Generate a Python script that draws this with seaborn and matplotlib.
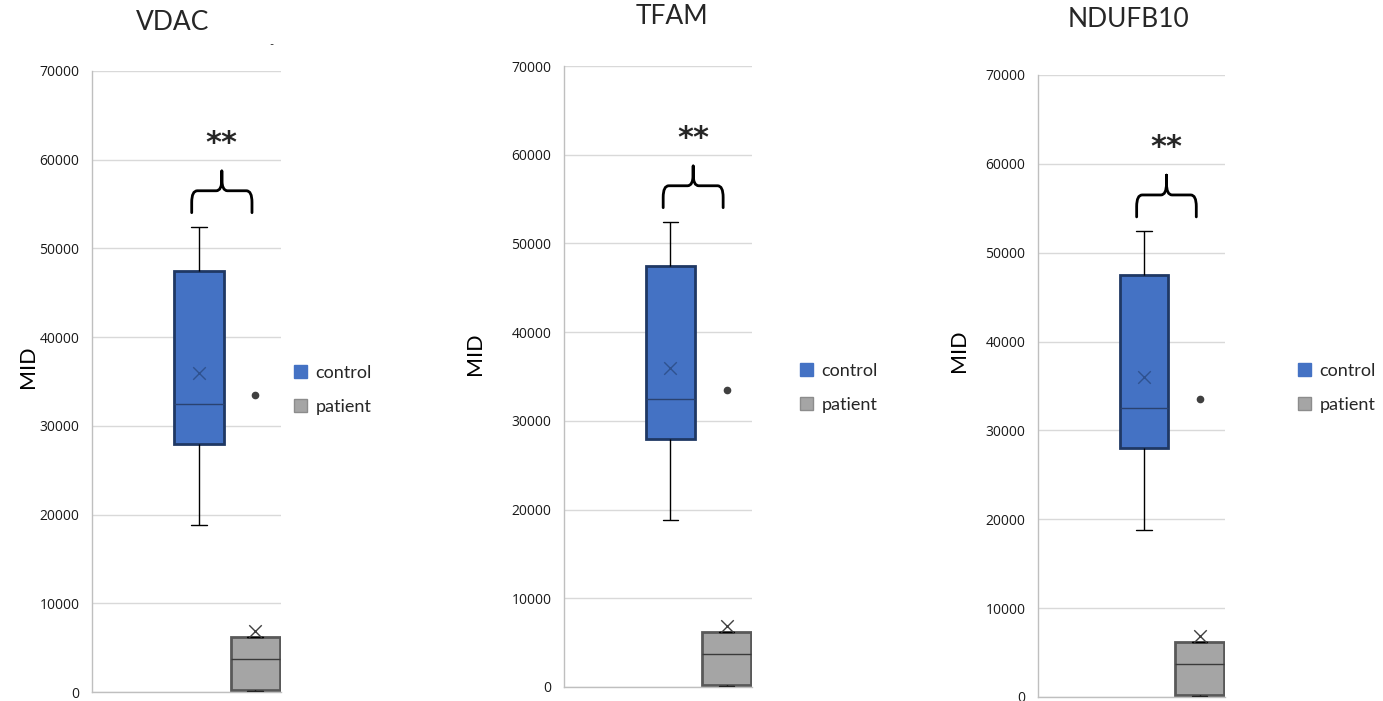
import pandas as pd
import seaborn as sns
import matplotlib.pyplot as plt
from matplotlib.patches import Patch, PathPatch
from matplotlib.path import Path

# data (same values in all three panels)
genes = ["VDAC", "TFAM", "NDUFB10"]
groups = ["control", "patient"]
# lower whisker, Q1, median, Q3, upper whisker
control_values = [18800, 28000, 32500, 47500, 52400]
# lower whisker, Q1, median, Q3, outlier
patient_values = [100, 250, 3700, 6150, 33500]
group_means = [36000, 6900]
y_ticks = [0, 10000, 20000, 30000, 40000, 50000, 60000, 70000]

W, H = 1383, 701

FILL = {"control": "#4472C4", "patient": "#A5A5A5"}
EDGE = {"control": "#1F3864", "patient": "#595959"}
MEDIAN = {"control": "#2A4270", "patient": "#3A3A3A"}
MEAN = {"control": "#2F528F", "patient": "#404040"}

# pixel layout of each panel: left, right, top, bottom
PANELS = [(92, 281, 71, 692), (564, 752, 66, 687), (1038, 1225, 75, 697)]
TITLES = [(173, 38), (672, 32), (1129, 35)]
YLABELS = [(28, 367), (475, 354), (959, 351)]
LEGENDS = [(294, 390), (800, 388), (1298, 388)]
CAP_WIDTH = 0.28


def add_brace(ax, x0, x1, y_end, y_bar, y_tip, dx=0.1, dy=1300):
    xm = (x0 + x1) / 2
    verts = [(x0, y_end), (x0, y_bar - dy),
             (x0, y_bar), (x0 + dx, y_bar),
             (xm - dx, y_bar),
             (xm, y_bar), (xm, y_bar + dy),
             (xm, y_tip),
             (xm, y_bar + dy),
             (xm, y_bar), (xm + dx, y_bar),
             (x1 - dx, y_bar),
             (x1, y_bar), (x1, y_bar - dy),
             (x1, y_end)]
    codes = [Path.MOVETO, Path.LINETO,
             Path.CURVE3, Path.CURVE3,
             Path.LINETO,
             Path.CURVE3, Path.CURVE3,
             Path.LINETO,
             Path.LINETO,
             Path.CURVE3, Path.CURVE3,
             Path.LINETO,
             Path.CURVE3, Path.CURVE3,
             Path.LINETO]
    ax.add_patch(PathPatch(Path(verts, codes), facecolor="none",
                           edgecolor="black", lw=2, capstyle="round",
                           joinstyle="round"))


sns.set_theme(style="whitegrid")
plt.rcParams["font.family"] = ["Lato", "DejaVu Sans"]

df = pd.DataFrame({"group": ["control"] * len(control_values) + ["patient"] * len(patient_values),
                   "MID": control_values + patient_values})
means = pd.DataFrame({"group": groups, "MID": group_means})

fig = plt.figure(figsize=(W / 100, H / 100), dpi=100)

for i, gene in enumerate(genes):
    l, r, t, b = PANELS[i]
    ax = fig.add_axes([l / W, (H - b) / H, (r - l) / W, (b - t) / H])

    for g in groups:
        sns.boxplot(data=df[df["group"] == g], x="group", y="MID", order=groups,
                    color=FILL[g], saturation=1, width=0.875, whis=1.5,
                    linecolor=EDGE[g], linewidth=1, fliersize=4.5,
                    flierprops=dict(marker="o", markerfacecolor="#404040",
                                    markeredgecolor="#404040"),
                    whiskerprops=dict(color="black", linewidth=1),
                    capprops=dict(color="black", linewidth=1),
                    medianprops=dict(color=MEDIAN[g], linewidth=1),
                    ax=ax)
    for patch, g in zip(ax.patches, groups):
        patch.set_edgecolor(EDGE[g])
        patch.set_linewidth(2)

    # narrow the whisker caps (short horizontal lines)
    for line in ax.lines:
        xs, ys = line.get_xdata(), line.get_ydata()
        if len(xs) == 2 and ys[0] == ys[1] and abs(xs[1] - xs[0]) < 0.6:
            mid = (xs[0] + xs[1]) / 2
            line.set_xdata([mid - CAP_WIDTH / 2, mid + CAP_WIDTH / 2])

    sns.stripplot(data=means, x="group", y="MID", order=groups, hue="group",
                  palette=MEAN, marker="x", size=9, linewidth=1, jitter=False,
                  legend=False, ax=ax)

    add_brace(ax, -0.13, 0.94, 54030, 56500, 58730)
    ax.text(0.405, 61800, "**", ha="center", va="center", fontsize=22,
            fontweight="bold", family=["DejaVu Sans"])

    ax.set_xlim(-1.9, 1.455)
    ax.set_ylim(0, 70000)
    ax.set_yticks(y_ticks)
    ax.set_yticklabels([str(v) for v in y_ticks], fontsize=10,
                       family="Open Sans", color="#1A1A1A")
    ax.set_xticks([])
    ax.set_xlabel("")
    ax.tick_params(axis="y", length=0, pad=9)
    ax.grid(axis="y", color="#D9D9D9", lw=1)
    ax.grid(axis="x", visible=False)
    ax.set_axisbelow(True)
    ax.spines["top"].set_visible(False)
    ax.spines["right"].set_visible(False)
    for s in ["left", "bottom"]:
        ax.spines[s].set_color("#BFBFBF")
        ax.spines[s].set_linewidth(1)

    ax.set_ylabel("MID", fontsize=15.5, va="center", color="black")
    cx, cy = YLABELS[i]
    ax.yaxis.set_label_coords((cx - l) / (r - l), (b - cy) / (b - t))

    tx, ty = TITLES[i]
    title = ax.set_title(gene, fontsize=19, va="baseline",
                         y=(b - ty) / (b - t))
    title.set_x((tx - l) / (r - l))

    handles = [Patch(facecolor=FILL[g], edgecolor="#8C8C8C" if g == "patient" else FILL[g])
               for g in groups]
    lx, ly = LEGENDS[i]
    fig.legend(handles, groups, loc="center left",
               bbox_to_anchor=(lx / W, 1 - ly / H), frameon=False, fontsize=13,
               handlelength=0.7, handleheight=0.7, handletextpad=0.5,
               labelspacing=1.0, borderpad=0, borderaxespad=0)

fig.text(271 / W, 1 - 45 / H, "-", fontsize=8, ha="center", va="center")

fig.savefig("out.png", dpi=100)
